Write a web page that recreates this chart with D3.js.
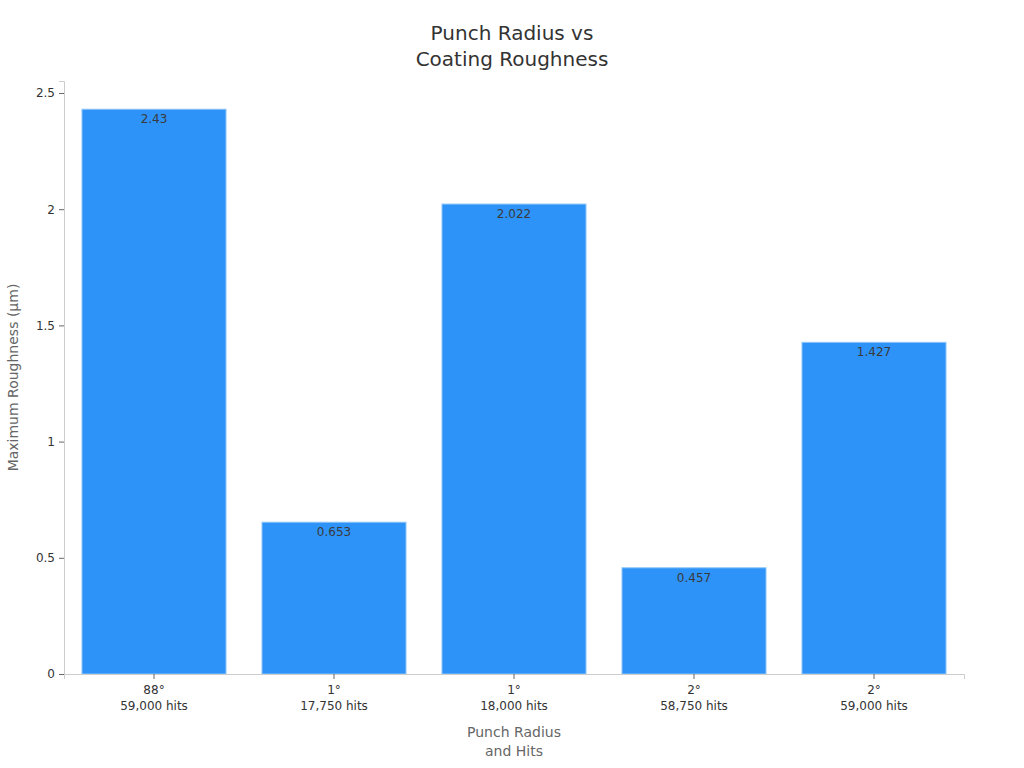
<!DOCTYPE html>
<html>
<head>
<meta charset="utf-8">
<script src="https://cdn.jsdelivr.net/npm/d3@7"></script>
<style>
  body { margin: 0; background: #fff; }
  text { font-family: "DejaVu Sans", sans-serif; }
</style>
</head>
<body>
<div id="chart"></div>
<script>
// data
var radii = ["88°", "1°", "1°", "2°", "2°"];
var hits = ["59,000 hits", "17,750 hits", "18,000 hits", "58,750 hits", "59,000 hits"];
var roughness = [2.43, 0.653, 2.022, 0.457, 1.427];
var yTicks = [0, 0.5, 1, 1.5, 2, 2.5];

var width = 1024, height = 768;
var margin = { top: 81, right: 60, bottom: 94, left: 64 };

var svg = d3.select("#chart").append("svg")
    .attr("width", width)
    .attr("height", height);

var x = d3.scaleBand()
    .domain(d3.range(radii.length))
    .range([margin.left, width - margin.right])
    .paddingInner(0.2)
    .paddingOuter(0.1);

var y = d3.scaleLinear()
    .domain([0, d3.max(roughness) * 1.05])
    .range([height - margin.bottom, margin.top]);

// title
svg.append("text")
    .attr("x", width / 2).attr("y", 40)
    .attr("text-anchor", "middle")
    .style("font-size", "20px").style("fill", "#333")
    .text("Punch Radius vs");
svg.append("text")
    .attr("x", width / 2).attr("y", 66)
    .attr("text-anchor", "middle")
    .style("font-size", "20px").style("fill", "#333")
    .text("Coating Roughness");

// bars
svg.append("g")
    .selectAll("rect")
    .data(roughness)
    .enter().append("rect")
    .attr("x", function (d, i) { return x(i); })
    .attr("y", function (d) { return y(d); })
    .attr("width", x.bandwidth())
    .attr("height", function (d) { return y(0) - y(d); })
    .style("fill", "#2e93f8")
    .style("stroke", "#8cc4f7")
    .style("stroke-width", 1);

// value labels
svg.append("g")
    .selectAll("text")
    .data(roughness)
    .enter().append("text")
    .attr("x", function (d, i) { return x(i) + x.bandwidth() / 2; })
    .attr("y", function (d) { return y(d) + 14; })
    .attr("text-anchor", "middle")
    .style("font-size", "12px")
    .style("fill", "#3a3a3a")
    .text(function (d) { return d; });

// y axis
var yAxis = svg.append("g")
    .attr("transform", "translate(" + margin.left + ",0)")
    .call(d3.axisLeft(y).tickValues(yTicks).tickSize(5).tickPadding(4)
        .tickFormat(function (d) { return d; }));
yAxis.select(".domain").style("stroke", "#ccc");
yAxis.selectAll(".tick line").style("stroke", "#666");
yAxis.selectAll(".tick text").style("font-size", "12px").style("fill", "#333");

// x axis
var xAxis = svg.append("g")
    .attr("transform", "translate(0," + (height - margin.bottom) + ")")
    .call(d3.axisBottom(x).tickSize(5).tickPadding(4).tickFormat(function () { return ""; }));
xAxis.select(".domain").style("stroke", "#ccc");
xAxis.selectAll(".tick line").style("stroke", "#666");
xAxis.selectAll(".tick text").remove();
xAxis.selectAll(".tick").append("text")
    .attr("y", 20)
    .attr("text-anchor", "middle")
    .style("font-size", "12px").style("fill", "#333")
    .text(function (i) { return radii[i]; });
xAxis.selectAll(".tick").append("text")
    .attr("y", 36)
    .attr("text-anchor", "middle")
    .style("font-size", "12px").style("fill", "#333")
    .text(function (i) { return hits[i]; });

// axis titles
svg.append("text")
    .attr("x", (margin.left + width - margin.right) / 2).attr("y", 737)
    .attr("text-anchor", "middle")
    .style("font-size", "14px").style("fill", "#666")
    .text("Punch Radius");
svg.append("text")
    .attr("x", (margin.left + width - margin.right) / 2).attr("y", 756)
    .attr("text-anchor", "middle")
    .style("font-size", "14px").style("fill", "#666")
    .text("and Hits");
svg.append("text")
    .attr("transform", "translate(18," + ((margin.top + height - margin.bottom) / 2) + ") rotate(-90)")
    .attr("text-anchor", "middle")
    .style("font-size", "14px").style("fill", "#666")
    .text("Maximum Roughness (μm)");
</script>
</body>
</html>
